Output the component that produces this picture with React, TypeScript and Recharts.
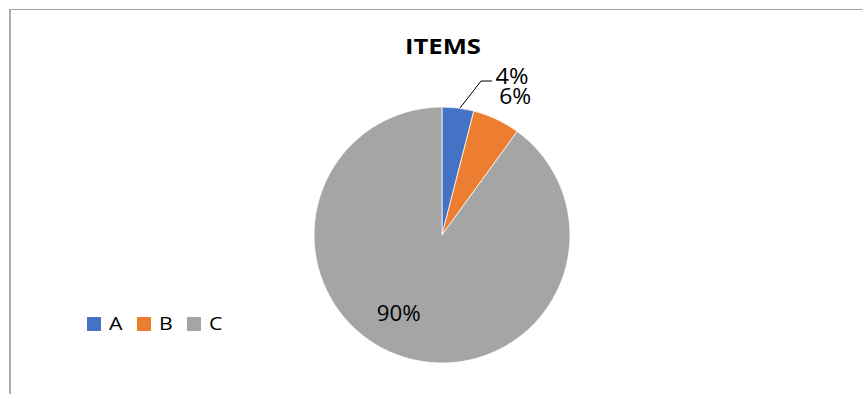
import React from 'react';
import { PieChart, Pie, Cell, Legend } from 'recharts';

const categories = ['A', 'B', 'C'];
const values = [4, 6, 90];
const colors = ['#4472C4', '#ED7D31', '#A5A5A5'];
const chartTitle = 'ITEMS';

const data = categories.map((name, i) => ({ name, value: values[i] }));

const RADIAN = Math.PI / 180;
const FONT = '"Open Sans", sans-serif';

const renderLabel = (props: any) => {
  const { cx, cy, midAngle, outerRadius, percent, index } = props;
  const text = `${Math.round(percent * 100)}%`;
  const cos = Math.cos(-midAngle * RADIAN);
  const sin = Math.sin(-midAngle * RADIAN);
  const common = {
    fill: '#000',
    fontFamily: FONT,
    fontSize: 22,
    dominantBaseline: 'central' as const,
    textAnchor: 'middle' as const,
    lengthAdjust: 'spacingAndGlyphs' as const,
  };
  if (index === 0) {
    const sx = cx + outerRadius * cos + 2;
    const sy = cy + outerRadius * sin;
    const ex = sx + 21;
    const ey = sy - 27;
    const tx = ex + 11;
    return (
      <g>
        <polyline points={`${sx},${sy} ${ex},${ey} ${tx},${ey}`} fill="none" stroke="#000" strokeWidth={1} />
        <text x={tx + 20} y={ey - 6.5} textLength={33} {...common}>{text}</text>
      </g>
    );
  }
  if (index === 1) {
    const r = outerRadius + 30;
    return (
      <text x={cx + r * cos + 6} y={cy + r * sin + 2.5} textLength={32} {...common}>{text}</text>
    );
  }
  const r = outerRadius * 0.69;
  return (
    <text x={cx + r * cos - 16} y={cy + r * sin - 7} textLength={44} {...common}>{text}</text>
  );
};

const renderLegend = (props: any) => {
  const { payload } = props;
  return (
    <div style={{ display: 'flex', alignItems: 'center', fontFamily: FONT, fontSize: 19, lineHeight: '19px', color: '#000' }}>
      {(payload || []).map((entry: any, i: number) => (
        <div key={i} style={{ display: 'flex', alignItems: 'center', marginRight: 16 }}>
          <span style={{ display: 'inline-block', width: 14, height: 14, background: entry.color, marginRight: 8 }} />
          <span style={{ display: 'inline-block', transform: 'scaleX(1.12)', transformOrigin: 'left center' }}>{entry.value}</span>
        </div>
      ))}
    </div>
  );
};

export default function App() {
  return (
    <div style={{ position: 'absolute', left: 0, top: 0, width: 862, height: 394, background: '#fff', overflow: 'hidden' }}>
      <div style={{ position: 'absolute', left: 9, top: 9, right: 0, bottom: 0, borderTop: '1px solid #a0a0a0', borderLeft: '2px solid #acacac' }} />
      <div style={{ position: 'absolute', left: 0, top: 0 }}>
        <PieChart width={862} height={394} margin={{ top: 0, right: 0, bottom: 0, left: 0 }}>
          <Pie
            data={data}
            dataKey="value"
            nameKey="name"
            cx={442}
            cy={235}
            outerRadius={128}
            startAngle={90}
            endAngle={-270}
            stroke="#ffffff"
            strokeWidth={0.75}
            label={renderLabel}
            labelLine={false}
            isAnimationActive={false}
          >
            {data.map((d, i) => (
              <Cell key={d.name} fill={colors[i]} />
            ))}
          </Pie>
          <Legend content={renderLegend} wrapperStyle={{ position: 'absolute', left: 87, top: 314, width: 'auto' }} />
        </PieChart>
      </div>
      <svg width={862} height={394} style={{ position: 'absolute', left: 0, top: 0, pointerEvents: 'none' }}>
        <text x={443} y={46} textAnchor="middle" dominantBaseline="central" fontFamily={FONT} fontWeight={700} fontSize={21} textLength={76} lengthAdjust="spacingAndGlyphs" fill="#000">
          {chartTitle}
        </text>
      </svg>
    </div>
  );
}
